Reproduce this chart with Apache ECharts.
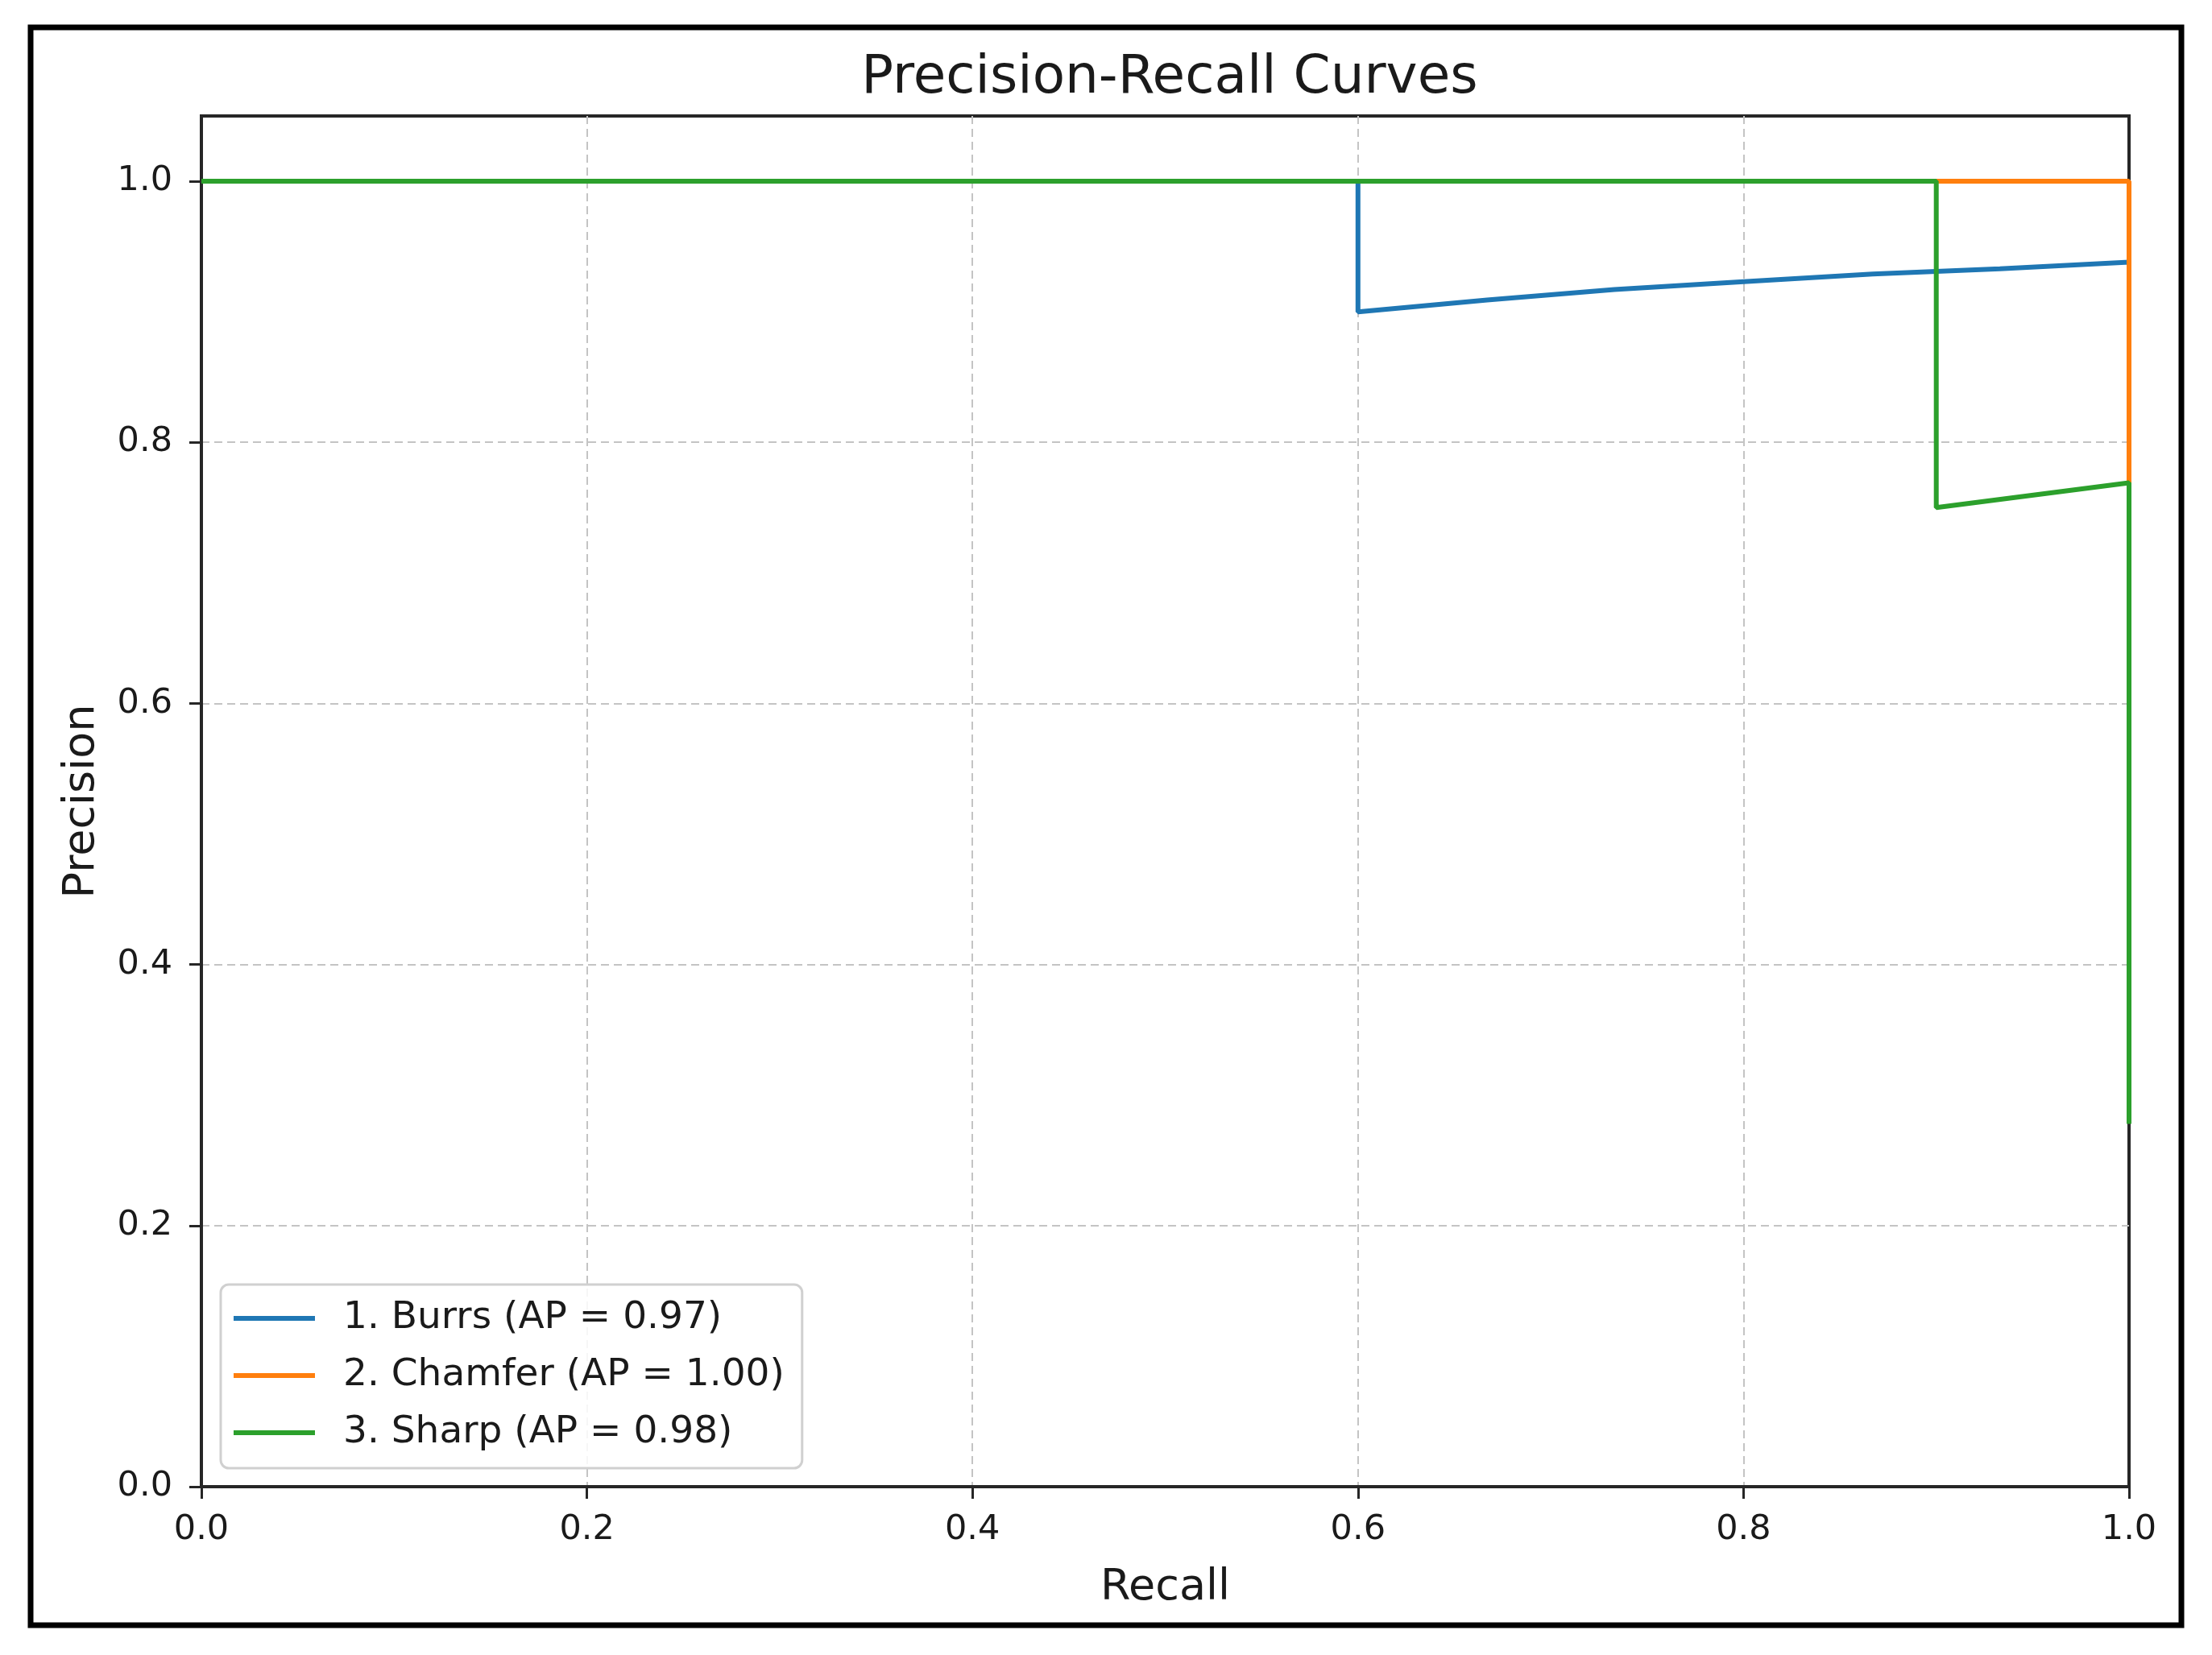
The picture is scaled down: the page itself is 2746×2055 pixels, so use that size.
<!DOCTYPE html>
<html>
<head>
<meta charset="utf-8">
<script src="https://cdn.jsdelivr.net/npm/echarts@6/dist/echarts.min.js"></script>
<style>
html,body{margin:0;padding:0;background:#fff;}
#chart{width:2746px;height:2055px;}
</style>
</head>
<body>
<div id="chart"></div>
<script>
// ---- data ----
var seriesNames = ['1. Burrs (AP = 0.97)', '2. Chamfer (AP = 1.00)', '3. Sharp (AP = 0.98)'];
var seriesColors = ['#1f77b4', '#ff7f0e', '#2ca02c'];

var burrsRecall     = [0.0, 0.6, 0.6, 0.667, 0.733, 0.8, 0.867, 0.933, 1.0, 1.0];
var burrsPrecision  = [1.0, 1.0, 0.90, 0.909, 0.917, 0.923, 0.929, 0.933, 0.938, 0.417];

var chamferRecall    = [0.0, 1.0, 1.0];
var chamferPrecision = [1.0, 1.0, 0.306];

var sharpRecall     = [0.0, 0.9, 0.9, 1.0, 1.0];
var sharpPrecision  = [1.0, 1.0, 0.75, 0.769, 0.278];

var xTicks = [0.0, 0.2, 0.4, 0.6, 0.8, 1.0];
var yTicks = [0.0, 0.2, 0.4, 0.6, 0.8, 1.0];

function pairs(xs, ys) {
  var out = [];
  for (var i = 0; i < xs.length; i++) out.push([xs[i], ys[i]]);
  return out;
}

var FONT = 'DejaVu Sans';
var chart = echarts.init(document.getElementById('chart'), null, {renderer: 'canvas'});

var axisLineStyle = {color: '#262626', width: 4};
var gridLineStyle = {color: '#c4c4c4', width: 2, type: [10, 6]};

var allSeries = [
  {name: seriesNames[0], data: pairs(burrsRecall, burrsPrecision), color: seriesColors[0]},
  {name: seriesNames[1], data: pairs(chamferRecall, chamferPrecision), color: seriesColors[1]},
  {name: seriesNames[2], data: pairs(sharpRecall, sharpPrecision), color: seriesColors[2]}
].map(function (s) {
  return {
    type: 'line',
    name: s.name,
    data: s.data,
    showSymbol: false,
    symbol: 'none',
    clip: false,
    animation: false,
    itemStyle: {color: s.color},
    lineStyle: {color: s.color, width: 6}
  };
});

var option = {
  backgroundColor: '#ffffff',
  animation: false,
  title: {
    text: 'Precision-Recall Curves',
    left: 1447,
    textAlign: 'center',
    top: 60,
    textStyle: {fontFamily: FONT, fontSize: 66, fontWeight: 'normal', color: '#1a1a1a'}
  },
  grid: {
    left: 250, right: 103, top: 144, bottom: 209,
    show: true, borderColor: '#262626', borderWidth: 4, backgroundColor: 'transparent'
  },
  legend: {
    orient: 'vertical',
    left: 274,
    top: 1595,
    itemWidth: 101,
    itemHeight: 6,
    itemGap: 21,
    padding: [17, 22, 19, 16],
    backgroundColor: 'rgba(255,255,255,0.85)',
    borderColor: '#d0d0d0',
    borderWidth: 3,
    borderRadius: 10,
    textStyle: {fontFamily: FONT, fontSize: 47, color: '#1a1a1a', lineHeight: 50, padding: [0, 0, 0, 30]},
    data: seriesNames.map(function (n) { return {name: n, icon: 'rect'}; })
  },
  xAxis: {
    type: 'value',
    min: 0, max: 1, interval: 0.2,
    name: 'Recall',
    nameLocation: 'middle',
    nameGap: 99,
    nameTextStyle: {fontFamily: FONT, fontSize: 54, color: '#1a1a1a'},
    axisLine: {show: true, lineStyle: axisLineStyle},
    axisTick: {show: true, length: 15, lineStyle: {color: '#262626', width: 3}, customValues: xTicks},
    axisLabel: {
      fontFamily: FONT, fontSize: 43, color: '#1a1a1a', margin: 32,
      customValues: xTicks,
      formatter: function (v) { return v.toFixed(1); }
    },
    splitLine: {show: true, showMinLine: false, showMaxLine: false, lineStyle: gridLineStyle}
  },
  yAxis: {
    type: 'value',
    min: 0, max: 1.05, interval: 0.2,
    name: 'Precision',
    nameLocation: 'middle',
    nameGap: 121,
    nameTextStyle: {fontFamily: FONT, fontSize: 54, color: '#1a1a1a'},
    axisLine: {show: true, lineStyle: axisLineStyle},
    axisTick: {show: true, length: 15, lineStyle: {color: '#262626', width: 3}, customValues: yTicks},
    axisLabel: {
      fontFamily: FONT, fontSize: 43, color: '#1a1a1a', margin: 36,
      customValues: yTicks,
      formatter: function (v) { return v.toFixed(1); }
    },
    splitLine: {show: true, showMinLine: false, showMaxLine: false, lineStyle: gridLineStyle}
  },
  graphic: [{
    type: 'rect',
    shape: {x: 38, y: 34, width: 2670, height: 1984},
    style: {fill: 'none', stroke: '#000000', lineWidth: 7},
    silent: true,
    z: 100
  }],
  series: allSeries
};

chart.setOption(option);
</script>
</body>
</html>
